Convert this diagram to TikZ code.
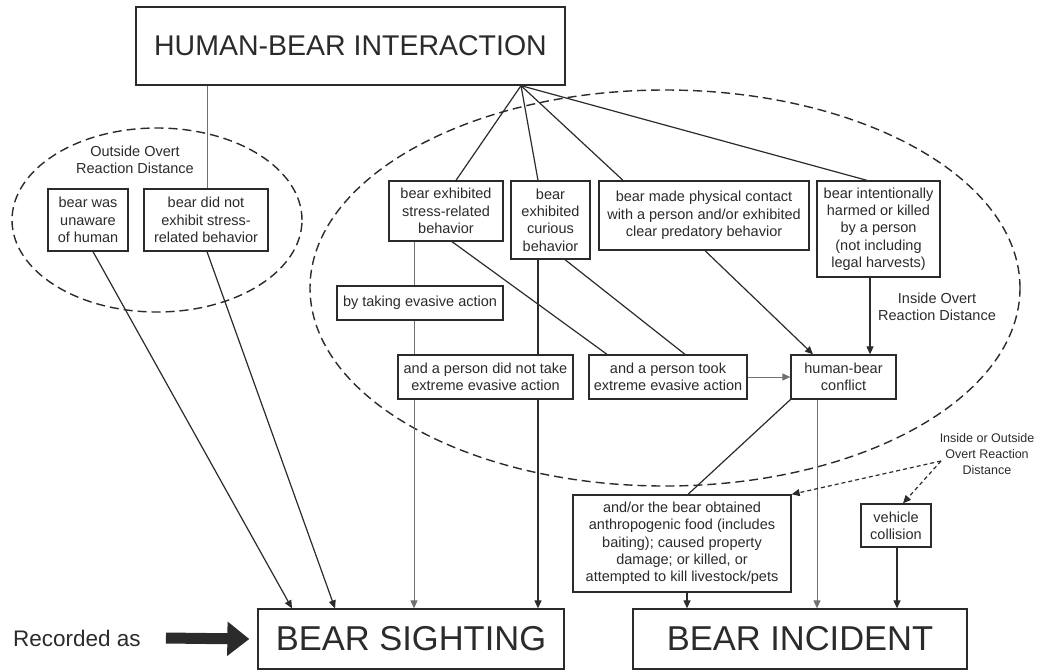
\documentclass[tikz,border=0pt]{standalone}
\usepackage{fontspec}
\setmainfont{Liberation Sans}
\usetikzlibrary{arrows.meta,calc}
\definecolor{ink}{HTML}{2B2B2B}
\definecolor{lightink}{HTML}{707070}
\begin{document}
\begin{tikzpicture}[x=1pt,y=-1pt,
  box/.style={draw=ink, line width=1.3pt, fill=white, text=ink, align=center, inner sep=1pt, font=\fontsize{14.5}{17.3}\selectfont},
  bigbox/.style={draw=ink, line width=1.3pt, fill=white, text=ink, inner sep=0pt},
  lbl/.style={text=ink, align=center, inner sep=0pt, font=\fontsize{14.5}{17.3}\selectfont},
  conn/.style={draw=ink, line width=1.2pt},
  lconn/.style={draw=lightink, line width=1pt},
  arr/.style={-{Triangle[length=8pt,width=7pt]}},
  zone/.style={draw=ink, line width=1.4pt, dash pattern=on 9pt off 5pt},
  dconn/.style={draw=ink, line width=1.2pt, dash pattern=on 4pt off 3pt},
  bigarrow/.style={draw=ink, line width=11pt, -{Triangle[length=22pt,width=33pt]}},
]
\useasboundingbox (0,0) rectangle (1040,670);
\foreach \v in {93,207,292,335,414,452,456,521,538,565,607,623,685,687,688,705,813,817,867,870,897,903}
  \coordinate (x\v) at (\v,0);

% zones
\draw[zone] (157,220) ellipse [x radius=145pt, y radius=92pt];
\draw[zone] (665,288) ellipse [x radius=355pt, y radius=198pt];

% nodes
\node[bigbox, minimum width=429pt, minimum height=78pt, font=\fontsize{28.5}{30}\selectfont] (hbi) at (350.5,46) {HUMAN-BEAR INTERACTION};

\node[lbl] (outlbl) at (135,160) {Outside Overt\\Reaction Distance};
\node[lbl] (inlbl) at (937,307) {Inside Overt\\Reaction Distance};
\node[lbl, font=\fontsize{12.5}{16}\selectfont] (iolbl) at (987,454) {Inside or Outside\\Overt Reaction\\Distance};
\coordinate (iofrom) at (941,461);

\node[box, minimum width=80pt, minimum height=62pt] (unaware) at (88,220) {bear was\\unaware\\of human};
\node[box, minimum width=124pt, minimum height=62pt] (bdn) at (206,220) {bear did not\\exhibit stress-\\related behavior};

\node[box, minimum width=114pt, minimum height=60pt] (stress) at (446,211) {bear exhibited\\stress-related\\behavior};
\node[box, minimum width=79pt, minimum height=78pt] (curious) at (550.5,220) {bear\\exhibited\\curious\\behavior};
\node[box, minimum width=210pt, minimum height=69pt] (physical) at (704,215.5) {bear made physical contact\\with a person and/or exhibited\\clear predatory behavior};
\node[box, minimum width=123pt, minimum height=96pt] (harmed) at (878.5,229) {bear intentionally\\harmed or killed\\by a person\\(not including\\legal harvests)};

\node[box, minimum width=166pt, minimum height=34pt] (evasive) at (420,303) {by taking evasive action};
\node[box, minimum width=175pt, minimum height=44pt] (notake) at (485.5,377) {and a person did not take\\extreme evasive action};
\node[box, minimum width=158pt, minimum height=44pt] (took) at (668,377) {and a person took\\extreme evasive action};
\node[box, minimum width=105pt, minimum height=44pt] (conflict) at (843.5,377) {human-bear\\conflict};

\node[box, minimum width=218pt, minimum height=97pt] (andor) at (682,543.5) {and/or the bear obtained\\anthropogenic food (includes\\baiting); caused property\\damage; or killed, or\\attempted to kill livestock/pets};
\node[box, minimum width=70pt, minimum height=43pt] (vehicle) at (896,525.5) {vehicle\\collision};

\node[bigbox, minimum width=306pt, minimum height=60pt, font=\fontsize{34.5}{36}\selectfont] (sighting) at (411,639) {BEAR SIGHTING};
\node[bigbox, minimum width=334pt, minimum height=60pt, font=\fontsize{34.5}{36}\selectfont] (incident) at (800,639) {BEAR INCIDENT};

\node[lbl, font=\fontsize{22.5}{24}\selectfont, anchor=west] (rec) at (13,638) {Recorded as};

% connectors
\coordinate (hub) at (hbi.south -| x521);
\draw[lconn] (hbi.south -| x207) -- (bdn.north -| x207);
\draw[conn, arr] (unaware.south -| x93) -- (sighting.north -| x292);
\draw[conn, arr] (bdn.south -| x207) -- (sighting.north -| x335);

\draw[conn] (hub) -- (stress.north -| x456);
\draw[conn] (hub) -- (curious.north -| x538);
\draw[conn] (hub) -- (physical.north -| x623);
\draw[conn] (hub) -- (harmed.north -| x867);

\draw[lconn] (stress.south -| x414) -- (evasive.north -| x414);
\draw[lconn] (evasive.south -| x414) -- (notake.north -| x414);
\draw[lconn, arr] (notake.south -| x414) -- (sighting.north -| x414);

\draw[conn] (curious.south -| x538) -- (notake.north -| x538);
\draw[conn, arr] (notake.south -| x538) -- (sighting.north -| x538);

\draw[conn] (stress.south -| x452) -- (took.north -| x607);
\draw[conn] (curious.south -| x565) -- (took.north -| x685);

\draw[lconn, arr] (took.east) -- (conflict.west);
\draw[conn, arr] (physical.south -| x705) -- (conflict.north -| x813);
\draw[conn, arr] (harmed.south -| x870) -- (conflict.north -| x870);

\draw[conn] (conflict.south west) -- (andor.north -| x688);
\draw[lconn, arr] (conflict.south -| x817) -- (incident.north -| x817);
\draw[conn, arr] (andor.south -| x687) -- (incident.north -| x687);
\draw[conn, arr] (vehicle.south -| x897) -- (incident.north -| x897);

\draw[dconn, arr] (iofrom) -- (andor.north east);
\draw[dconn, arr] (iofrom) -- (vehicle.north -| x903);

\draw[bigarrow] ([xshift=25pt]rec.east) -- ([xshift=-8pt]sighting.west);
\end{tikzpicture}
\end{document}
